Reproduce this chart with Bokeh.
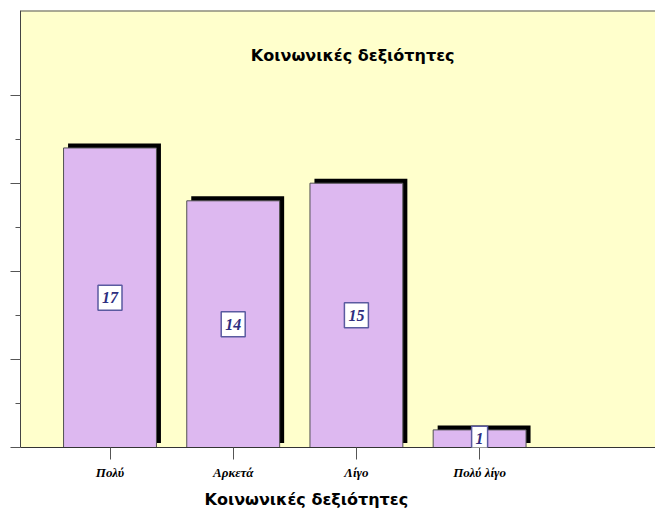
from bokeh.plotting import figure
from bokeh.models import Range1d, FixedTicker, Label, Span, Title
from bokeh.embed import file_html
from bokeh.resources import INLINE

# ---- data ----
categories = ["Πολύ", "Αρκετά", "Λίγο", "Πολύ λίγο"]
values = [17, 14, 15, 1]
title_text = "Κοινωνικές δεξιότητες"
y_major_ticks = [0, 5, 10, 15, 20]
y_minor_ticks = [2.5, 7.5, 12.5, 17.5]

xpos = list(range(len(categories)))

BG = "#FFFFCC"
BAR = "#DDB8F0"

p = figure(width=655, height=515,
           x_range=Range1d(-0.7265, 4.4277), y_range=Range1d(0, 24.8),
           output_backend="svg", toolbar_location=None,
           min_border_left=20, min_border_top=10, min_border_right=0, min_border_bottom=68,
           background_fill_color=BG, border_fill_color="white",
           outline_line_color=None)
p.grid.visible = False

# shadow offset (about 4.5 px right and up)
dx = 4.5 / 123.2
dy = 4.5 / 17.62
bw = 0.754

p.vbar(x=[x + dx for x in xpos], top=[v + dy for v in values], bottom=dy,
       width=bw, fill_color="black", line_color=None)
p.vbar(x=xpos, top=values, bottom=0, width=bw,
       fill_color=BAR, line_color="#505050", line_width=1)

for x, v in zip(xpos, values):
    p.add_layout(Label(x=x, y=v / 2, text=str(v), text_align="center", text_baseline="middle",
                       text_font="Liberation Serif", text_font_style="bold italic",
                       text_font_size="16px", text_color="#2E2E80",
                       background_fill_color="white", border_line_color="#5A5AA0",
                       border_line_width=1.5, padding=(4, 7)))

# top border
p.add_layout(Span(location=24.8, dimension="width", line_color="#555555", line_width=2))

# title inside plot area
p.add_layout(Label(x=1.97, y=22.25, text=title_text, text_align="center", text_baseline="middle",
                   text_font="DejaVu Sans", text_font_style="bold", text_font_size="16px",
                   text_color="black"))

# x axis title (below the axis)
p.add_layout(Title(text=title_text, align="left", offset=184, standoff=10,
                   text_font="DejaVu Sans", text_font_style="bold", text_font_size="16px",
                   text_color="black"), "below")

# x axis
xa = p.xaxis[0]
xa.ticker = FixedTicker(ticks=xpos, minor_ticks=[])
xa.major_label_overrides = {x: c for x, c in zip(xpos, categories)}
xa.major_label_text_font = "Liberation Serif"
xa.major_label_text_font_style = "bold italic"
xa.major_label_text_font_size = "13px"
xa.major_label_text_color = "black"
xa.major_label_standoff = 5
xa.major_tick_out = 12
xa.major_tick_in = 0
xa.major_tick_line_color = "#555555"
xa.axis_line_color = "#333333"
xa.axis_line_width = 1

# y axis (ticks only, no labels)
ya = p.yaxis[0]
ya.ticker = FixedTicker(ticks=y_major_ticks, minor_ticks=y_minor_ticks)
ya.major_label_text_font_size = "1px"
ya.major_label_text_color = None
ya.major_label_standoff = 0
ya.major_tick_out = 10
ya.major_tick_in = 0
ya.minor_tick_out = 5
ya.minor_tick_in = 0
ya.major_tick_line_color = "#555555"
ya.minor_tick_line_color = "#555555"
ya.axis_line_color = "#444444"

open("out.html", "w").write(file_html(p, INLINE))
